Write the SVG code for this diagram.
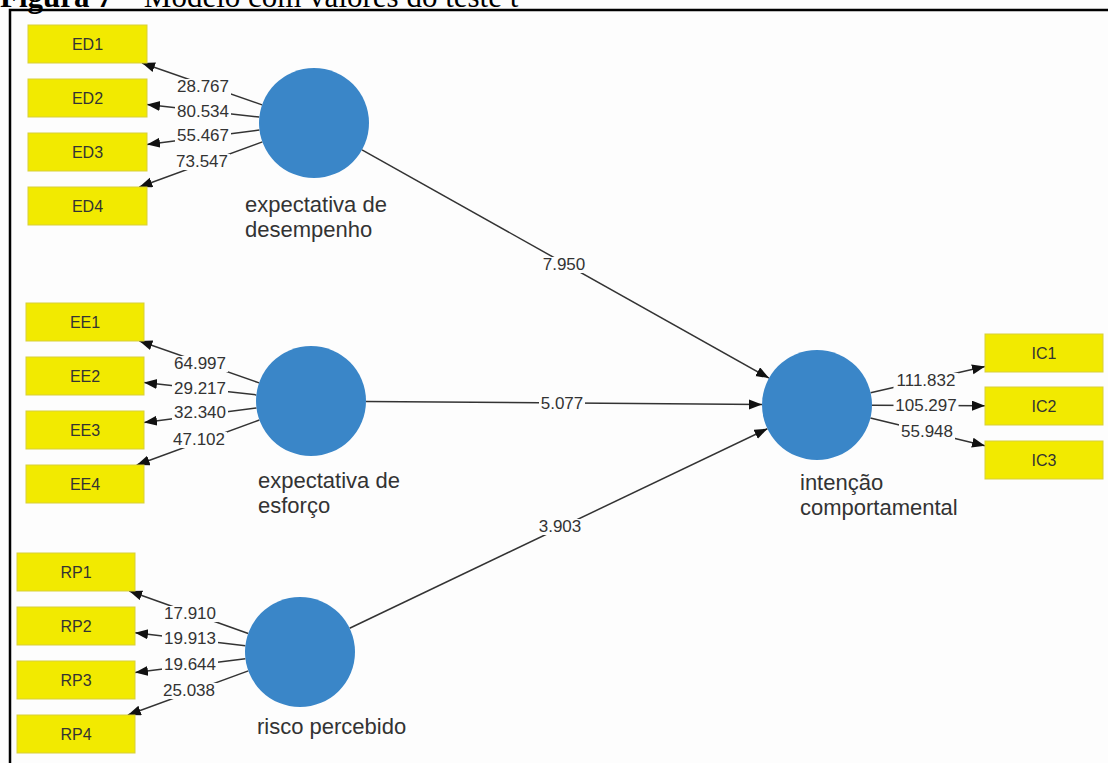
<svg xmlns="http://www.w3.org/2000/svg" width="1108" height="763" viewBox="0 0 1108 763">
<style>
.bg{fill:#fdfdfd}
.frame{fill:none;stroke:#000;stroke-width:2.5}
.cap{font-family:"Liberation Serif","Times New Roman",serif;font-size:31px;fill:#000}
.box{fill:#f2ea00;stroke:#d8cf3a;stroke-width:1}
.btxt{font-family:"Liberation Sans",Arial,sans-serif;font-size:16px;fill:#333;text-anchor:middle}
.lv{fill:#3a86c8}
.ltxt{font-family:"Liberation Sans",Arial,sans-serif;font-size:22px;fill:#333}
.edge{stroke:#333;stroke-width:1.5;fill:none;marker-end:url(#arr)}
.lbg{fill:#fdfdfd}
.elab{font-family:"Liberation Sans",Arial,sans-serif;font-size:17px;fill:#333;text-anchor:middle}
</style>
<defs>
<marker id="arr" markerUnits="userSpaceOnUse" markerWidth="14" markerHeight="12" refX="13" refY="5" orient="auto">
<path d="M0,0 L13,5 L0,10 z" fill="#111"/>
</marker>
</defs>
<rect class="bg" x="0" y="0" width="1108" height="763"/>
<text class="cap" x="0" y="7"><tspan font-weight="bold">Figura 7</tspan> – Modelo com valores do teste t</text>
<path class="frame" d="M10,763 L10,10 L1108,10"/>

<g id="connectors">
<line class="edge" x1="262.1" y1="104.9" x2="142" y2="63"/>
<line class="edge" x1="259.3" y1="117" x2="147" y2="104.6"/>
<line class="edge" x1="259.4" y1="130" x2="147" y2="144.4"/>
<line class="edge" x1="262.4" y1="141.9" x2="139.3" y2="187"/>
<line class="edge" x1="259.1" y1="382.9" x2="139.4" y2="341"/>
<line class="edge" x1="256.3" y1="394.9" x2="144" y2="382.5"/>
<line class="edge" x1="256.5" y1="408" x2="144" y2="422.4"/>
<line class="edge" x1="259.4" y1="420" x2="136.7" y2="465"/>
<line class="edge" x1="248.2" y1="633.5" x2="129.2" y2="591"/>
<line class="edge" x1="245.4" y1="645.7" x2="135" y2="632.8"/>
<line class="edge" x1="245.4" y1="658.8" x2="135" y2="672.6"/>
<line class="edge" x1="248.3" y1="670.9" x2="127.9" y2="715"/>
<line class="edge" x1="870.6" y1="392.7" x2="985" y2="366.5"/>
<line class="edge" x1="872" y1="405.2" x2="985" y2="405.7"/>
<line class="edge" x1="870.4" y1="418" x2="985" y2="445.7"/>
<line class="edge" x1="362" y1="149.9" x2="769" y2="378.1"/>
<line class="edge" x1="366" y1="401.4" x2="762" y2="404.6"/>
<line class="edge" x1="349.6" y1="628.3" x2="767.4" y2="428.7"/>
<rect class="lbg" x="175" y="79" width="56" height="16"/>
<rect class="lbg" x="175" y="104" width="56" height="16"/>
<rect class="lbg" x="175" y="128" width="56" height="16"/>
<rect class="lbg" x="174" y="154" width="56" height="16"/>
<rect class="lbg" x="172" y="356" width="56" height="16"/>
<rect class="lbg" x="172" y="381" width="56" height="16"/>
<rect class="lbg" x="172" y="405" width="56" height="16"/>
<rect class="lbg" x="171" y="432" width="56" height="16"/>
<rect class="lbg" x="162" y="606" width="56" height="16"/>
<rect class="lbg" x="162" y="631" width="56" height="16"/>
<rect class="lbg" x="162" y="657" width="56" height="16"/>
<rect class="lbg" x="161" y="683" width="56" height="16"/>
<rect class="lbg" x="893.5" y="373" width="65" height="16"/>
<rect class="lbg" x="893.5" y="398" width="65" height="16"/>
<rect class="lbg" x="899" y="424" width="56" height="16"/>
<rect class="lbg" x="541" y="257" width="46" height="16"/>
<rect class="lbg" x="539" y="396" width="46" height="16"/>
<rect class="lbg" x="537" y="519" width="46" height="16"/>
<text class="elab" x="203" y="92">28.767</text>
<text class="elab" x="203" y="117">80.534</text>
<text class="elab" x="203" y="141">55.467</text>
<text class="elab" x="202" y="167">73.547</text>
<text class="elab" x="200" y="369">64.997</text>
<text class="elab" x="200" y="394">29.217</text>
<text class="elab" x="200" y="418">32.340</text>
<text class="elab" x="199" y="445">47.102</text>
<text class="elab" x="190" y="619">17.910</text>
<text class="elab" x="190" y="644">19.913</text>
<text class="elab" x="190" y="670">19.644</text>
<text class="elab" x="189" y="696">25.038</text>
<text class="elab" x="926" y="386">111.832</text>
<text class="elab" x="926" y="411">105.297</text>
<text class="elab" x="927" y="437">55.948</text>
<text class="elab" x="564" y="270">7.950</text>
<text class="elab" x="562" y="409">5.077</text>
<text class="elab" x="560" y="532">3.903</text>
</g>

<g id="node-ED1"><rect class="box" x="28" y="25" width="119" height="38"/><text class="btxt" x="87.5" y="50">ED1</text></g>
<g id="node-ED2"><rect class="box" x="28" y="79" width="119" height="38"/><text class="btxt" x="87.5" y="104">ED2</text></g>
<g id="node-ED3"><rect class="box" x="28" y="133" width="119" height="38"/><text class="btxt" x="87.5" y="158">ED3</text></g>
<g id="node-ED4"><rect class="box" x="28" y="187" width="119" height="38"/><text class="btxt" x="87.5" y="212">ED4</text></g>
<g id="node-EE1"><rect class="box" x="26" y="303" width="118" height="38"/><text class="btxt" x="85" y="328">EE1</text></g>
<g id="node-EE2"><rect class="box" x="26" y="357" width="118" height="38"/><text class="btxt" x="85" y="382">EE2</text></g>
<g id="node-EE3"><rect class="box" x="26" y="411" width="118" height="38"/><text class="btxt" x="85" y="436">EE3</text></g>
<g id="node-EE4"><rect class="box" x="26" y="465" width="118" height="38"/><text class="btxt" x="85" y="490">EE4</text></g>
<g id="node-RP1"><rect class="box" x="17" y="553" width="118" height="38"/><text class="btxt" x="76" y="578">RP1</text></g>
<g id="node-RP2"><rect class="box" x="17" y="607" width="118" height="38"/><text class="btxt" x="76" y="632">RP2</text></g>
<g id="node-RP3"><rect class="box" x="17" y="661" width="118" height="38"/><text class="btxt" x="76" y="686">RP3</text></g>
<g id="node-RP4"><rect class="box" x="17" y="715" width="118" height="38"/><text class="btxt" x="76" y="740">RP4</text></g>
<g id="node-IC1"><rect class="box" x="985" y="334" width="118" height="38"/><text class="btxt" x="1044" y="359">IC1</text></g>
<g id="node-IC2"><rect class="box" x="985" y="387" width="118" height="38"/><text class="btxt" x="1044" y="412">IC2</text></g>
<g id="node-IC3"><rect class="box" x="985" y="441" width="118" height="38"/><text class="btxt" x="1044" y="466">IC3</text></g>

<g id="node-ED"><circle class="lv" cx="314" cy="123" r="55"/><text class="ltxt" x="245" y="212">expectativa de<tspan x="245" y="237">desempenho</tspan></text></g>
<g id="node-EE"><circle class="lv" cx="311" cy="401" r="55"/><text class="ltxt" x="258" y="488">expectativa de<tspan x="258" y="513">esforço</tspan></text></g>
<g id="node-RP"><circle class="lv" cx="300" cy="652" r="55"/><text class="ltxt" x="257" y="734">risco percebido</text></g>
<g id="node-IC"><circle class="lv" cx="817" cy="405" r="55"/><text class="ltxt" x="800" y="490">intenção<tspan x="800" y="515">comportamental</tspan></text></g>
</svg>
